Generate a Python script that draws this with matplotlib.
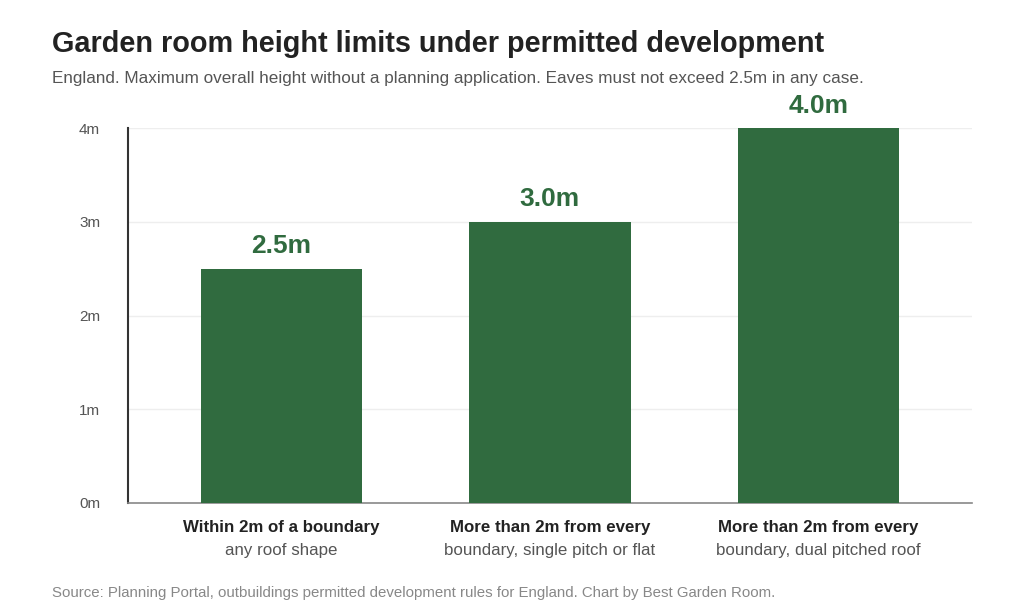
import matplotlib
matplotlib.use("Agg")
import matplotlib.pyplot as plt

plt.rcParams['font.family'] = ['Liberation Sans', 'DejaVu Sans']

# data
categories = ["Within 2m of a boundary",
              "More than 2m from every",
              "More than 2m from every"]
sublabels = ["any roof shape",
             "boundary, single pitch or flat",
             "boundary, dual pitched roof"]
heights = [2.5, 3.0, 4.0]
yticks = [0, 1, 2, 3, 4]

green = "#306b3f"

fig = plt.figure(figsize=(10.24, 6.14), dpi=100)
ax = fig.add_axes([0.125, 0.1808, 0.824, 0.6107])

x = list(range(len(heights)))
ax.bar(x, heights, width=0.6, color=green, zorder=3)
for xi, h in zip(x, heights):
    ax.text(xi, h + 0.11, f"{h:.1f}m", ha="center", va="bottom",
            fontsize=19, fontweight="bold", color=green)

ax.set_xlim(-0.57, 2.57)
ax.set_ylim(0, 4)
ax.set_yticks(yticks)
ax.set_yticklabels([f"{t}m" for t in yticks])
ax.tick_params(axis="y", length=0, pad=20, labelsize=11, labelcolor="#555555")
ax.grid(axis="y", color="#eeeeee", linewidth=1, zorder=0)
ax.set_xticks([])

for s in ["top", "right"]:
    ax.spines[s].set_visible(False)
ax.spines["left"].set_color("#333333")
ax.spines["left"].set_linewidth(1.5)
ax.spines["bottom"].set_color("#888888")
ax.spines["bottom"].set_linewidth(1.2)

for xi, c, s in zip(x, categories, sublabels):
    ax.annotate(c, (xi, 0), xycoords=("data", "axes fraction"),
                xytext=(0, -17), textcoords="offset pixels",
                ha="center", va="top", fontsize=12.2, fontweight="bold", color="#222222")
    ax.annotate(s, (xi, 0), xycoords=("data", "axes fraction"),
                xytext=(0, -40), textcoords="offset pixels",
                ha="center", va="top", fontsize=12.2, color="#555555")

fig.text(0.051, 0.928, "Garden room height limits under permitted development",
         fontsize=20.8, fontweight="bold", color="#222222", va="center")
fig.text(0.051, 0.872, "England. Maximum overall height without a planning application. Eaves must not exceed 2.5m in any case.",
         fontsize=12.3, color="#555555", va="center")
fig.text(0.051, 0.035, "Source: Planning Portal, outbuildings permitted development rules for England. Chart by Best Garden Room.",
         fontsize=10.8, color="#888888", va="center")

fig.savefig("out.png", dpi=100)
